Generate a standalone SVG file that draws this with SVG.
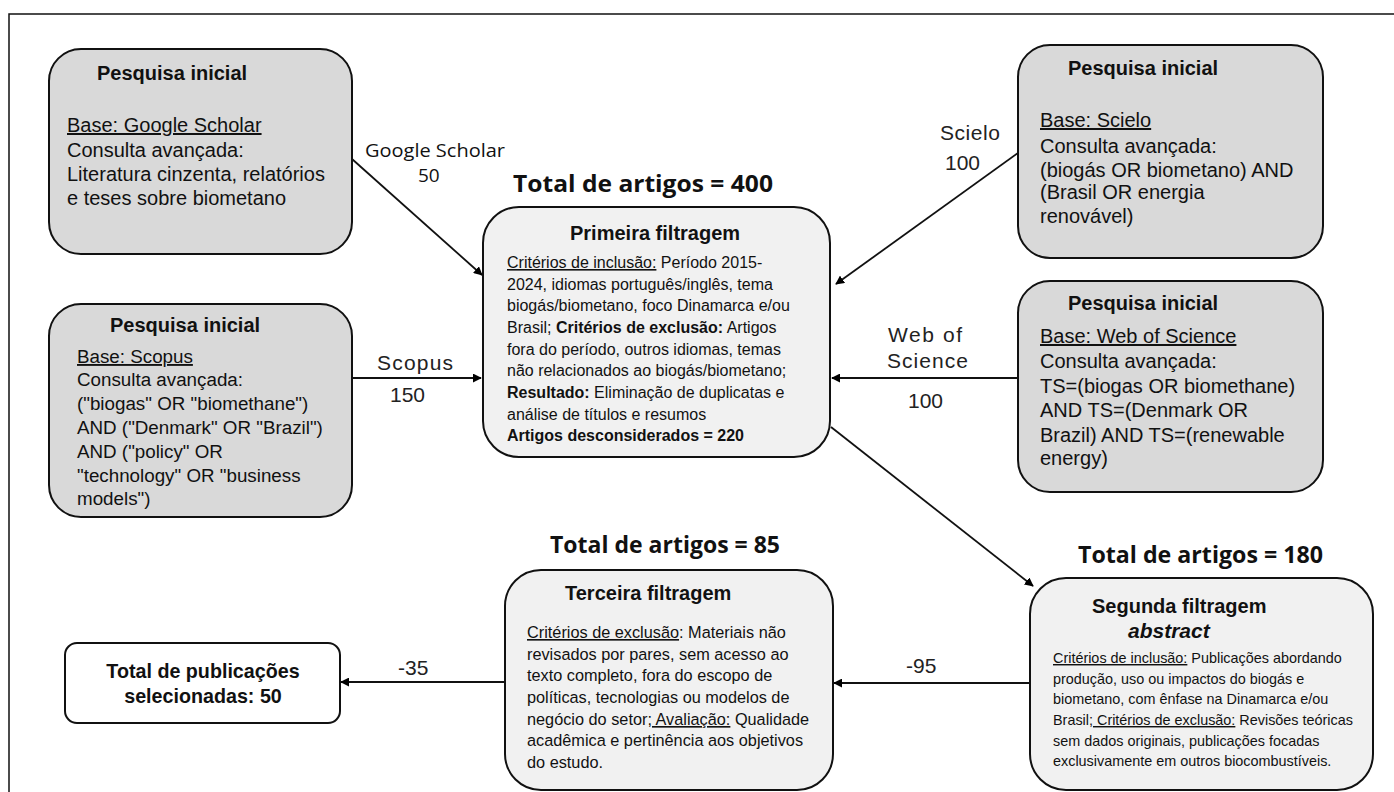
<svg xmlns="http://www.w3.org/2000/svg" width="1394" height="792" viewBox="0 0 1394 792">
<defs>
<marker id="ah" viewBox="0 0 10 10" refX="9" refY="5" markerWidth="5" markerHeight="5" orient="auto" markerUnits="strokeWidth">
<path d="M0,0 L10,5 L0,10 z" fill="#000"/>
</marker>
<style>
.src{fill:#d9d9d9;stroke:#111;stroke-width:2}
.flt{fill:#f1f1f1;stroke:#111;stroke-width:2}
.fin{fill:#fff;stroke:#111;stroke-width:2}
.t{font-family:"Liberation Sans",Arial,sans-serif;fill:#111}
.b{font-weight:bold}
.h{font-family:"Open Sans","Noto Sans",sans-serif;font-weight:bold;font-size:23px;fill:#111}
.lbl{font-family:"Liberation Sans",Arial,sans-serif;font-size:21px;fill:#222}
.u{text-decoration:underline}
.con{stroke:#111;stroke-width:1.8;fill:none;marker-end:url(#ah)}
</style>
</defs>
<rect x="0" y="0" width="1394" height="792" fill="#fff"/>
<rect x="9" y="14" width="1400" height="800" fill="none" stroke="#111" stroke-width="1.5"/>

<g id="connectors">
<line class="con" x1="352" y1="159" x2="482" y2="275"/>
<line class="con" x1="352" y1="378" x2="481" y2="378"/>
<line class="con" x1="1018" y1="153" x2="836" y2="284"/>
<line class="con" x1="1018" y1="378" x2="832" y2="378"/>
<line class="con" x1="831" y1="427" x2="1033" y2="586"/>
<line class="con" x1="1030" y1="683" x2="834" y2="683"/>
<line class="con" x1="505" y1="682" x2="341" y2="682"/>
<text class="t" x="365" y="157" style="font-family:'Open Sans','Noto Sans',sans-serif;font-size:19px" textLength="140" lengthAdjust="spacingAndGlyphs">Google Scholar</text>
<text class="t" x="418" y="182" style="font-family:'Open Sans','Noto Sans',sans-serif;font-size:19px">50</text>
<text class="lbl" x="377" y="370" textLength="76">Scopus</text>
<text class="lbl" x="390" y="402">150</text>
<text class="lbl" x="940" y="140" textLength="60">Scielo</text>
<text class="lbl" x="945" y="170">100</text>
<text class="lbl" x="888" y="342" textLength="74">Web of</text>
<text class="lbl" x="887" y="368" textLength="81">Science</text>
<text class="lbl" x="908" y="408">100</text>
<text class="lbl" x="906" y="673">-95</text>
<text class="lbl" x="398" y="675">-35</text>
</g>

<g id="gscholar">
<rect class="src" x="49" y="49" width="303" height="205" rx="32"/>
<text class="t b" x="97" y="80" font-size="20">Pesquisa inicial</text>
<text class="t" x="67" y="132" font-size="20"><tspan class="u">Base: Google Scholar</tspan></text>
<text class="t" x="67" y="157" font-size="20">Consulta avançada:</text>
<text class="t" x="67" y="181" font-size="20">Literatura cinzenta, relatórios</text>
<text class="t" x="67" y="205" font-size="20">e teses sobre biometano</text>
</g>

<g id="scopus">
<rect class="src" x="49" y="304" width="303" height="213" rx="32"/>
<text class="t b" x="110" y="332" font-size="20">Pesquisa inicial</text>
<text class="t" x="77" y="363" font-size="18.8"><tspan class="u">Base: Scopus</tspan></text>
<text class="t" x="77" y="386" font-size="18.8">Consulta avançada:</text>
<text class="t" x="77" y="410" font-size="18.8">("biogas" OR "biomethane")</text>
<text class="t" x="77" y="434" font-size="18.8">AND ("Denmark" OR "Brazil")</text>
<text class="t" x="77" y="458" font-size="18.8">AND ("policy" OR</text>
<text class="t" x="77" y="482" font-size="18.8">"technology" OR "business</text>
<text class="t" x="77" y="505" font-size="18.8">models")</text>
</g>

<g id="scielo">
<rect class="src" x="1018" y="45" width="305" height="213" rx="32"/>
<text class="t b" x="1068" y="75" font-size="20">Pesquisa inicial</text>
<text class="t" x="1040" y="127" font-size="20"><tspan class="u">Base: Scielo</tspan></text>
<text class="t" x="1040" y="153" font-size="20">Consulta avançada:</text>
<text class="t" x="1040" y="177" font-size="20">(biogás OR biometano) AND</text>
<text class="t" x="1040" y="199" font-size="20">(Brasil OR energia</text>
<text class="t" x="1040" y="223" font-size="20">renovável)</text>
</g>

<g id="wos">
<rect class="src" x="1018" y="281" width="305" height="211" rx="32"/>
<text class="t b" x="1068" y="310" font-size="20">Pesquisa inicial</text>
<text class="t" x="1040" y="343" font-size="20"><tspan class="u">Base: Web of Science</tspan></text>
<text class="t" x="1040" y="368" font-size="20">Consulta avançada:</text>
<text class="t" x="1040" y="393" font-size="20">TS=(biogas OR biomethane)</text>
<text class="t" x="1040" y="417" font-size="20">AND TS=(Denmark OR</text>
<text class="t" x="1040" y="442" font-size="20">Brazil) AND TS=(renewable</text>
<text class="t" x="1040" y="465" font-size="20">energy)</text>
</g>

<g id="primeira">
<text class="h" x="513" y="192" textLength="260" lengthAdjust="spacingAndGlyphs">Total de artigos = 400</text>
<rect class="flt" x="483" y="207" width="347" height="250" rx="36"/>
<text class="t b" x="570" y="240" font-size="20">Primeira filtragem</text>
<g class="t" font-size="16">
<text x="507" y="268"><tspan class="u">Critérios de inclusão:</tspan> Período 2015-</text>
<text x="507" y="290">2024, idiomas português/inglês, tema</text>
<text x="507" y="311">biogás/biometano, foco Dinamarca e/ou</text>
<text x="507" y="333">Brasil; <tspan class="b">Critérios de exclusão:</tspan> Artigos</text>
<text x="507" y="355">fora do período, outros idiomas, temas</text>
<text x="507" y="376">não relacionados ao biogás/biometano;</text>
<text x="507" y="398"><tspan class="b">Resultado:</tspan> Eliminação de duplicatas e</text>
<text x="507" y="420">análise de títulos e resumos</text>
<text x="507" y="441" class="b">Artigos desconsiderados = 220</text>
</g>
</g>

<g id="segunda">
<text class="h" x="1078" y="563" textLength="245" lengthAdjust="spacingAndGlyphs">Total de artigos = 180</text>
<rect class="flt" x="1030" y="578" width="343" height="212" rx="36"/>
<text class="t b" x="1092" y="613" font-size="20">Segunda filtragem</text>
<text class="t b" x="1128" y="638" font-size="21" font-style="italic">abstract</text>
<g class="t" font-size="14.4">
<text x="1053" y="663"><tspan class="u">Critérios de inclusão:</tspan> Publicações abordando</text>
<text x="1053" y="684">produção, uso ou impactos do biogás e</text>
<text x="1053" y="704">biometano, com ênfase na Dinamarca e/ou</text>
<text x="1053" y="725">Brasil;<tspan class="u"> Critérios de exclusão:</tspan> Revisões teóricas</text>
<text x="1053" y="746">sem dados originais, publicações focadas</text>
<text x="1053" y="766">exclusivamente em outros biocombustíveis.</text>
</g>
</g>

<g id="terceira">
<text class="h" x="550" y="553" textLength="230" lengthAdjust="spacingAndGlyphs">Total de artigos = 85</text>
<rect class="flt" x="505" y="570" width="328" height="220" rx="36"/>
<text class="t b" x="565" y="600" font-size="20">Terceira filtragem</text>
<g class="t" font-size="16.3">
<text x="527" y="638"><tspan class="u">Critérios de exclusão</tspan>: Materiais não</text>
<text x="527" y="660">revisados por pares, sem acesso ao</text>
<text x="527" y="681">texto completo, fora do escopo de</text>
<text x="527" y="703">políticas, tecnologias ou modelos de</text>
<text x="527" y="725">negócio do setor<tspan class="u">; Avaliação:</tspan> Qualidade</text>
<text x="527" y="746">acadêmica e pertinência aos objetivos</text>
<text x="527" y="768">do estudo.</text>
</g>
</g>

<g id="final">
<rect class="fin" x="65" y="643" width="275" height="80" rx="12"/>
<text class="t b" x="203" y="678" font-size="19.7" text-anchor="middle">Total de publicações</text>
<text class="t b" x="203" y="703" font-size="19.7" text-anchor="middle">selecionadas: 50</text>
</g>
</svg>
